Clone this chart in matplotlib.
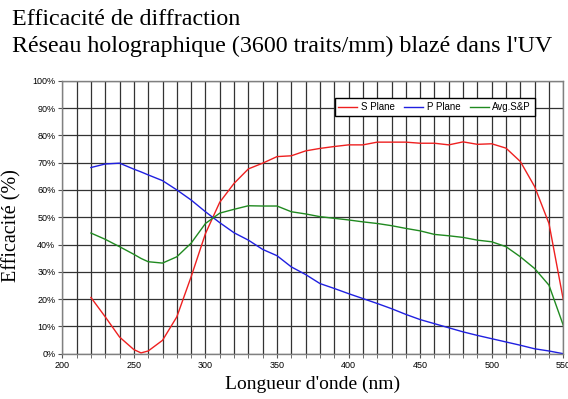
import numpy as np
import matplotlib
matplotlib.use('Agg')
from matplotlib import pyplot as plt
from matplotlib.ticker import MultipleLocator, PercentFormatter

# wavelengths (nm)
wavelength = [220, 230, 240, 250, 255, 260, 270, 280, 290, 300, 310, 320, 330, 340, 350,
              360, 370, 380, 390, 400, 410, 420, 430, 440, 450, 460, 470, 480,
              490, 500, 510, 520, 530, 540, 550]

# efficiency (%)
s_plane = [20.6, 13.5, 6.1, 1.5, 0.3, 1.0, 4.9, 13.5, 28.2, 44.0, 55.5, 62.4, 67.7, 69.8, 72.2,
           72.5, 74.3, 75.2, 75.9, 76.5, 76.5, 77.5, 77.5, 77.5, 77.1, 77.1, 76.5, 77.6,
           76.7, 76.9, 75.3, 70.4, 61.2, 47.7, 19.8]
p_plane = [68.2, 69.5, 69.8, 67.6, 66.6, 65.5, 63.4, 60.0, 56.3, 52.0, 48.0, 44.3, 41.6, 38.2, 35.9,
           31.8, 29.0, 25.7, 23.9, 22.0, 20.2, 18.4, 16.5, 14.4, 12.5, 11.0, 9.5, 8.0,
           6.7, 5.5, 4.3, 3.1, 1.8, 1.0, 0.0]
avg_sp = [44.2, 41.9, 39.2, 36.4, 34.9, 33.7, 33.2, 35.5, 40.5, 47.7, 51.5, 52.9, 54.2, 54.1, 54.1,
          52.0, 51.2, 50.2, 49.6, 49.0, 48.3, 47.7, 46.9, 45.9, 45.0, 43.7, 43.2, 42.6,
          41.6, 41.0, 39.2, 35.5, 31.2, 25.1, 10.4]

title_lines = ["Efficacité de diffraction",
               "Réseau holographique (3600 traits/mm) blazé dans l'UV"]

fig = plt.figure(figsize=(5.68, 3.99), dpi=100)
ax = fig.add_axes([0.1097, 0.1135, 0.9917 - 0.1097, 0.7977 - 0.1135])

ax.plot(wavelength, s_plane, color='#ee2020', lw=1.0, label='S Plane')
ax.plot(wavelength, p_plane, color='#2020e0', lw=1.0, label='P Plane')
ax.plot(wavelength, avg_sp, color='#208a20', lw=1.0, label='Avg.S&P')

ax.set_xlim(200, 550)
ax.set_ylim(0, 100)
ax.xaxis.set_major_locator(MultipleLocator(50))
ax.xaxis.set_minor_locator(MultipleLocator(10))
ax.yaxis.set_major_locator(MultipleLocator(10))
ax.yaxis.set_major_formatter(PercentFormatter(decimals=0))

ax.grid(True, which='both', color='#333333', lw=0.9)
ax.set_axisbelow(True)
for sp in ax.spines.values():
    sp.set_color('#808080')
    sp.set_linewidth(1.0)

ax.tick_params(axis='both', which='both', direction='out', length=3, color='#555555',
               labelsize=6.5, pad=2)
for lab in ax.get_xticklabels() + ax.get_yticklabels():
    lab.set_fontfamily('Liberation Sans')

ax.set_xlabel("Longueur d'onde (nm)", family='Liberation Serif', fontsize=14, labelpad=4)
ax.set_ylabel("Efficacité (%)", family='Liberation Serif', fontsize=14.5)
ax.yaxis.set_label_coords(-0.082, 0.47)

fig.text(0.021, 0.950, title_lines[0], family='Liberation Serif', fontsize=17.3, va='center')
fig.text(0.021, 0.884, title_lines[1], family='Liberation Serif', fontsize=17.3, va='center')

leg = ax.legend(loc='upper right', bbox_to_anchor=(0.9435, 0.936), ncol=3,
                prop={'family': 'Liberation Sans', 'size': 7.0},
                frameon=True, fancybox=False, framealpha=1, edgecolor='black',
                handlelength=1.9, columnspacing=1.0, handletextpad=0.4,
                borderpad=0.4, borderaxespad=0)
leg.get_frame().set_linewidth(1.0)

fig.savefig('out.png', dpi=100)
